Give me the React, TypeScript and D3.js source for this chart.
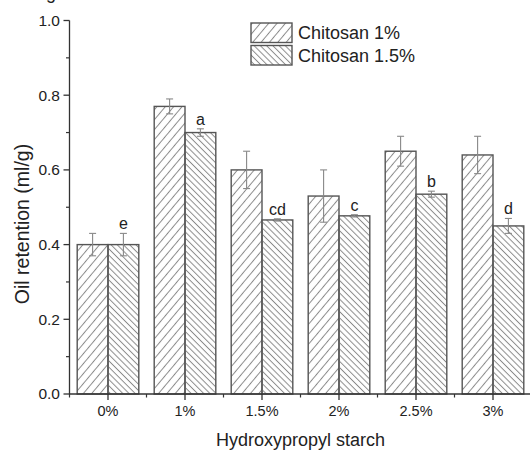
import React from "react";
import * as d3 from "d3";

const categories = ["0%", "1%", "1.5%", "2%", "2.5%", "3%"];
const seriesNames = ["Chitosan 1%", "Chitosan 1.5%"];
const chitosan1 = [0.4, 0.77, 0.6, 0.53, 0.65, 0.64];
const chitosan1Err = [0.03, 0.02, 0.05, 0.07, 0.04, 0.05];
const chitosan15 = [0.4, 0.7, 0.466, 0.477, 0.535, 0.45];
const chitosan15Err = [0.03, 0.01, 0.003, 0.003, 0.008, 0.02];
const letters = ["e", "a", "cd", "c", "b", "d"];
const yTicks = [0, 0.2, 0.4, 0.6, 0.8, 1.0];
const yMinorTicks = [0.1, 0.3, 0.5, 0.7, 0.9];

const W = 530;
const H = 450;

export default function App() {
  const x = d3.scaleBand<string>().domain(categories).range([69.5, 531.5]).padding(0);
  const y = d3.scaleLinear().domain([0, 1]).range([394, 20.5]);
  const step = x.step();
  const barW = step * 0.4;
  const series = [
    { vals: chitosan1, errs: chitosan1Err, fill: "url(#hatch1)", off: -barW },
    { vals: chitosan15, errs: chitosan15Err, fill: "url(#hatch2)", off: 0 },
  ];
  const axisColor = "#333";
  const font = "Arial, 'Liberation Sans', sans-serif";
  const center = (c: string) => (x(c) as number) + step / 2;

  return (
    <svg width={W} height={H} style={{ position: "absolute", left: 0, top: 0, background: "#fff" }} fontFamily={font}>
      <defs>
        <pattern id="hatch1" patternUnits="userSpaceOnUse" width={6.4} height={10} patternTransform="rotate(40)">
          <line x1={3.2} y1={0} x2={3.2} y2={10} stroke="#8a8a8a" strokeWidth={1} />
        </pattern>
        <pattern id="hatch2" patternUnits="userSpaceOnUse" width={4.4} height={10} patternTransform="rotate(-45)">
          <line x1={2.2} y1={0} x2={2.2} y2={10} stroke="#8a8a8a" strokeWidth={1} />
        </pattern>
      </defs>
      <rect x={0} y={0} width={W} height={H} fill="#fff" />
      <text x={46} y={-1} fontSize={18} fill="#222">g</text>

      {/* bars */}
      {series.map((s, si) =>
        categories.map((c, i) => (
          <rect
            key={`b${si}-${i}`}
            x={center(c) + s.off}
            y={y(s.vals[i])}
            width={barW}
            height={y(0) - y(s.vals[i])}
            fill={s.fill}
            stroke="#555"
            strokeWidth={1.4}
          />
        ))
      )}

      {/* error bars */}
      {series.map((s, si) =>
        categories.map((c, i) => {
          const cx = center(c) + s.off + barW / 2;
          const t = y(s.vals[i] + s.errs[i]);
          const b = y(s.vals[i] - s.errs[i]);
          return (
            <g key={`e${si}-${i}`} stroke="#888" strokeWidth={1.1}>
              <line x1={cx} x2={cx} y1={t} y2={b} />
              <line x1={cx - 3.5} x2={cx + 3.5} y1={t} y2={t} />
              <line x1={cx - 3.5} x2={cx + 3.5} y1={b} y2={b} />
            </g>
          );
        })
      )}

      {/* letters */}
      {categories.map((c, i) => (
        <text
          key={`l${i}`}
          x={center(c) + barW / 2}
          y={y(chitosan15[i] + chitosan15Err[i]) - 4}
          textAnchor="middle"
          fontSize={16}
          fill="#222"
        >
          {letters[i]}
        </text>
      ))}

      {/* y axis */}
      <line x1={69.5} x2={69.5} y1={y(1)} y2={y(0)} stroke={axisColor} strokeWidth={1.3} />
      {yTicks.map((t) => (
        <g key={`yt${t}`}>
          <line x1={63.5} x2={69.5} y1={y(t)} y2={y(t)} stroke={axisColor} strokeWidth={1.3} />
          <text x={60} y={y(t)} dy="0.35em" textAnchor="end" fontSize={15.5} fill="#222">
            {d3.format(".1f")(t)}
          </text>
        </g>
      ))}
      {yMinorTicks.map((t) => (
        <line key={`ym${t}`} x1={66} x2={69.5} y1={y(t)} y2={y(t)} stroke={axisColor} strokeWidth={1.2} />
      ))}

      {/* x axis */}
      <line x1={69.5} x2={531.5} y1={y(0)} y2={y(0)} stroke={axisColor} strokeWidth={1.3} />
      {categories.map((c) => (
        <g key={`xt${c}`}>
          <line x1={center(c)} x2={center(c)} y1={y(0)} y2={y(0) + 6} stroke={axisColor} strokeWidth={1.3} />
          <text x={center(c)} y={y(0) + 22} textAnchor="middle" fontSize={14.5} fill="#222">
            {c}
          </text>
        </g>
      ))}
      {categories.map((c) => (
        <line key={`xm${c}`} x1={x(c) as number} x2={x(c) as number} y1={y(0)} y2={y(0) + 3.5} stroke={axisColor} strokeWidth={1.2} />
      ))}

      {/* axis titles */}
      <text x={300.5} y={446} textAnchor="middle" fontSize={18} fill="#222">
        Hydroxypropyl starch
      </text>
      <text transform="translate(29,224) rotate(-90)" textAnchor="middle" fontSize={19.5} fill="#222">
        Oil retention (ml/g)
      </text>

      {/* legend */}
      {seriesNames.map((n, i) => (
        <g key={`lg${i}`}>
          <rect x={251} y={23 + i * 22.5} width={41} height={19.5} fill={i === 0 ? "url(#hatch1)" : "url(#hatch2)"} stroke="#555" strokeWidth={1.4} />
          <text x={298} y={33 + i * 22.5} dy="0.35em" fontSize={18} fill="#222">
            {n}
          </text>
        </g>
      ))}
    </svg>
  );
}
